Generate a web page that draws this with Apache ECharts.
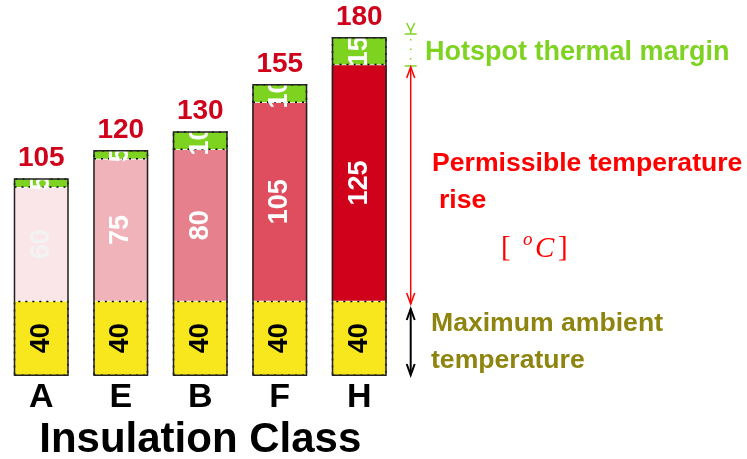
<!DOCTYPE html>
<html>
<head>
<meta charset="utf-8">
<script src="https://cdn.jsdelivr.net/npm/echarts@6/dist/echarts.min.js"></script>
<style>
html,body{margin:0;padding:0;background:#fff;}
#chart{width:747px;height:459px;}
</style>
</head>
<body>
<div id="chart"></div>
<script>
const categories = ['A', 'E', 'B', 'F', 'H'];
const ambient = [40, 40, 40, 40, 40];
const rise = [60, 75, 80, 105, 125];
const margin = [5, 5, 10, 10, 15];
const riseColors = ['#fae6e8', '#f1b3ba', '#e7808d', '#de4e5f', '#d0021b'];
const riseLabelColors = ['#f2f2f2', '#ffffff', '#ffffff', '#ffffff', '#ffffff'];
const totals = categories.map((c, i) => ambient[i] + rise[i] + margin[i]);

const FONT = '"Liberation Sans", Arial, sans-serif';
const SERIF = '"Liberation Serif", "DejaVu Serif", serif';

const chart = echarts.init(document.getElementById('chart'));

const segLabel = (color) => ({
  show: true, position: 'inside', rotate: 90,
  color: color, fontSize: 27, fontWeight: 'bold', fontFamily: FONT
});

const AX = 410.7;
const red = '#ff0000';
function arrowHead(x, y, dir, color, w) {
  return {
    type: 'polyline',
    shape: { points: [[x - 4, y - dir * 11], [x, y], [x + 4, y - dir * 11]] },
    style: { stroke: color, lineWidth: w, fill: null }
  };
}

const option = {
  animation: false,
  backgroundColor: '#ffffff',
  grid: { left: 1.5, right: 348, top: 37, bottom: 83, containLabel: false, outerBoundsMode: 'none' },
  xAxis: {
    type: 'category',
    data: categories,
    axisLine: { show: false },
    axisTick: { show: false },
    axisLabel: { color: '#000', fontSize: 34, fontWeight: 'bold', fontFamily: FONT, margin: 5 },
    name: 'Insulation Class',
    nameLocation: 'middle',
    nameGap: 41,
    nameTextStyle: { color: '#000', fontSize: 42, fontWeight: 'bold', fontFamily: FONT }
  },
  yAxis: {
    type: 'value', min: 0, max: 180, show: false,
    splitLine: { show: false }
  },
  series: [
    {
      name: 'Ambient', type: 'bar', stack: 't', barWidth: 55, z: 2,
      data: ambient,
      itemStyle: { color: '#f8e71c', borderColor: '#000', borderWidth: 1.5, borderType: [2, 5] },
      label: segLabel('#000')
    },
    {
      name: 'Rise', type: 'bar', stack: 't', barWidth: 55, z: 1,
      data: rise.map((v, i) => ({
        value: v,
        itemStyle: { color: riseColors[i] },
        label: { color: riseLabelColors[i] }
      })),
      itemStyle: { borderWidth: 0 },
      label: segLabel('#fff')
    },
    {
      name: 'Margin', type: 'bar', stack: 't', barWidth: 55, z: 2,
      data: margin,
      itemStyle: { color: '#7ed321', borderColor: '#000', borderWidth: 1.5, borderType: [2, 5] },
      label: segLabel('#fff')
    },
    {
      name: 'Total', type: 'bar', barWidth: 55, barGap: '-100%', z: 3,
      data: totals,
      itemStyle: { color: 'transparent', borderColor: '#222', borderWidth: 1.5 },
      label: {
        show: true, position: 'top', distance: 6,
        color: '#d0021b', fontSize: 28, fontWeight: 'bold', fontFamily: FONT
      },
      silent: true
    }
  ],
  graphic: [
    { type: 'polyline', shape: { points: [[AX - 4, 23], [AX, 31], [AX + 4, 23]] }, style: { stroke: '#7ed321', lineWidth: 1.5, fill: null } },
    { type: 'line', shape: { x1: AX, y1: 31, x2: AX, y2: 34 }, style: { stroke: '#7ed321', lineWidth: 1.5 } },
    { type: 'line', shape: { x1: AX - 6, y1: 34, x2: AX + 6, y2: 34 }, style: { stroke: '#7ed321', lineWidth: 1.5 } },
    { type: 'line', shape: { x1: AX, y1: 39, x2: AX, y2: 62 }, style: { stroke: '#7ed321', lineWidth: 1.5, lineDash: [1.5, 8] } },
    { type: 'line', shape: { x1: AX - 6, y1: 66, x2: AX + 6, y2: 66 }, style: { stroke: '#7ed321', lineWidth: 1.5 } },
    { type: 'text', x: 425, y: 53, style: { text: 'Hotspot thermal margin', fill: '#7ed321', font: 'bold 27px ' + FONT, textVerticalAlign: 'middle' } },
    { type: 'line', shape: { x1: AX, y1: 67, x2: AX, y2: 304 }, style: { stroke: red, lineWidth: 1.5 } },
    arrowHead(AX, 67, -1, red, 1.5),
    arrowHead(AX, 304, 1, red, 1.5),
    { type: 'text', x: 432, y: 164, style: { text: 'Permissible temperature', fill: red, font: 'bold 26.6px ' + FONT, textVerticalAlign: 'middle' } },
    { type: 'text', x: 439, y: 201, style: { text: 'rise', fill: red, font: 'bold 26.6px ' + FONT, textVerticalAlign: 'middle' } },
    { type: 'text', x: 501, y: 248, style: { text: '[', fill: red, font: '29px ' + SERIF, textVerticalAlign: 'middle' } },
    { type: 'text', x: 523, y: 240, style: { text: 'o', fill: red, font: 'italic 19px ' + SERIF, textVerticalAlign: 'middle' } },
    { type: 'text', x: 535, y: 249, style: { text: 'C', fill: red, font: 'italic 29px ' + SERIF, textVerticalAlign: 'middle' } },
    { type: 'text', x: 558, y: 248, style: { text: ']', fill: red, font: '29px ' + SERIF, textVerticalAlign: 'middle' } },
    { type: 'line', shape: { x1: AX, y1: 309, x2: AX, y2: 375 }, style: { stroke: '#000', lineWidth: 2 } },
    arrowHead(AX, 309, -1, '#000', 2),
    arrowHead(AX, 375, 1, '#000', 2),
    { type: 'text', x: 431, y: 324, style: { text: 'Maximum ambient', fill: '#8e8510', font: 'bold 26.6px ' + FONT, textVerticalAlign: 'middle' } },
    { type: 'text', x: 431, y: 361, style: { text: 'temperature', fill: '#8e8510', font: 'bold 26.6px ' + FONT, textVerticalAlign: 'middle' } }
  ]
};
chart.setOption(option);
</script>
</body>
</html>
